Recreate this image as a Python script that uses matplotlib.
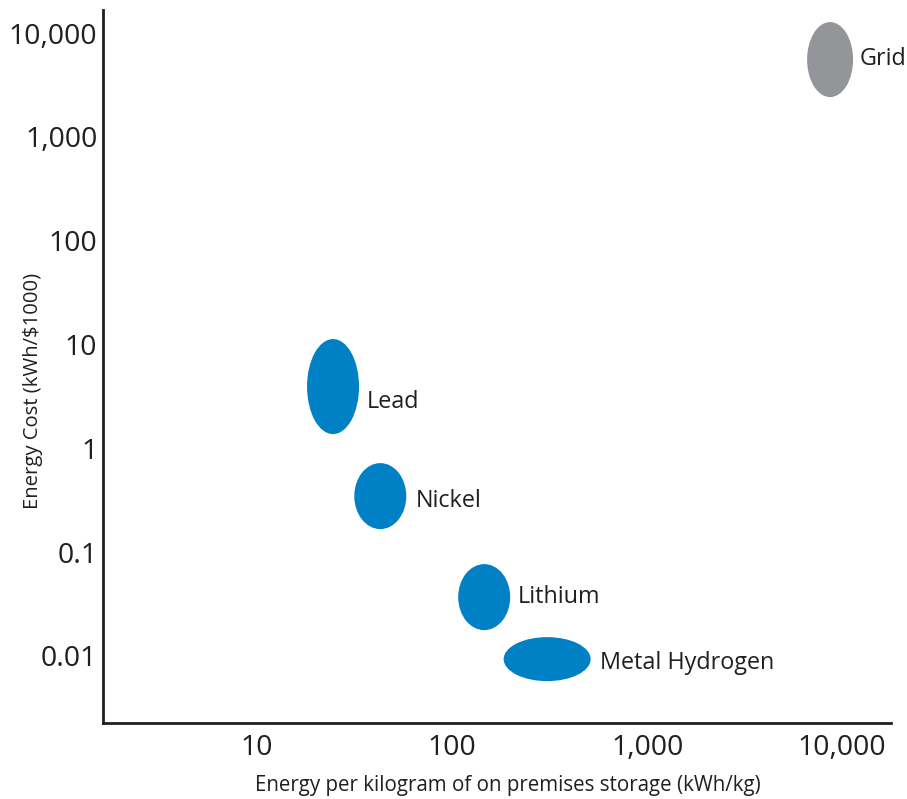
import matplotlib
matplotlib.use("Agg")
import matplotlib.pyplot as plt
from matplotlib.patches import Ellipse
from matplotlib.transforms import ScaledTranslation

# ---- data ----
technologies = ["Grid", "Lead", "Nickel", "Lithium", "Metal Hydrogen"]
energy_per_kg = [8670, 24.5, 42.8, 146, 307]          # kWh/kg
energy_cost = [5560, 3.93, 0.346, 0.0368, 0.0093]     # kWh/$1000
x_ticks = [10, 100, 1000, 10000]
x_tick_labels = ["10", "100", "1,000", "10,000"]
y_ticks = [0.01, 0.1, 1, 10, 100, 1000, 10000]
y_tick_labels = ["0.01", "0.1", "1", "10", "100", "1,000", "10,000"]

# ---- style ----
ell_w_px = [46, 52, 52, 52, 87]
ell_h_px = [75, 95, 66, 66, 44]
ell_colors = ["#939598", "#0081C6", "#0081C6", "#0081C6", "#0081C6"]
label_dx_px = [7, 8, 9, 8, 9]
label_dy_px = [1, -15, -5, 0, -4]
text_color = "#231F20"
FONT = ["Open Sans", "DejaVu Sans"]

plt.rcParams["font.family"] = FONT
DPI = 100
fig = plt.figure(figsize=(9.07, 7.99), dpi=DPI)
ax = fig.add_axes([103 / 907, 1 - 723 / 799, 788 / 907, 713 / 799])
ax.set_xscale("log")
ax.set_yscale("log")
ax.set_xlim(1.62, 17800)
ax.set_ylim(0.002254, 16700)

for s in ["top", "right"]:
    ax.spines[s].set_visible(False)
for s in ["left", "bottom"]:
    ax.spines[s].set_color(text_color)
    ax.spines[s].set_linewidth(2.0)

ax.set_xticks(x_ticks)
ax.set_xticklabels(x_tick_labels)
ax.set_yticks(y_ticks)
ax.set_yticklabels(y_tick_labels)
ax.minorticks_off()
ax.tick_params(axis="both", length=0, labelsize=20.5, labelcolor=text_color)
ax.tick_params(axis="y", pad=4)
ax.tick_params(axis="x", pad=8)

for name, x, y, w, h, c, dx, dy in zip(technologies, energy_per_kg, energy_cost,
                                        ell_w_px, ell_h_px, ell_colors,
                                        label_dx_px, label_dy_px):
    trans = fig.dpi_scale_trans + ScaledTranslation(x, y, ax.transData)
    e = Ellipse((0, 0), w / DPI, h / DPI, transform=trans,
                facecolor=c, edgecolor="none", clip_on=False)
    ax.add_patch(e)
    ax.annotate(name, (x, y), xytext=(w / 2 + dx, dy), textcoords="offset pixels",
                ha="left", va="center", fontsize=16.8, color=text_color)

ax.set_xlabel("Energy per kilogram of on premises storage (kWh/kg)",
              fontsize=14.8, color=text_color)
ax.set_ylabel("Energy Cost (kWh/$1000)", fontsize=14.6, color=text_color)
ax.xaxis.label.set_va("center")
ax.yaxis.label.set_va("center")
ax.xaxis.set_label_coords(0.514, -0.087)
ax.yaxis.set_label_coords(-0.089, 0.466)

fig.savefig("out.png", dpi=DPI)
